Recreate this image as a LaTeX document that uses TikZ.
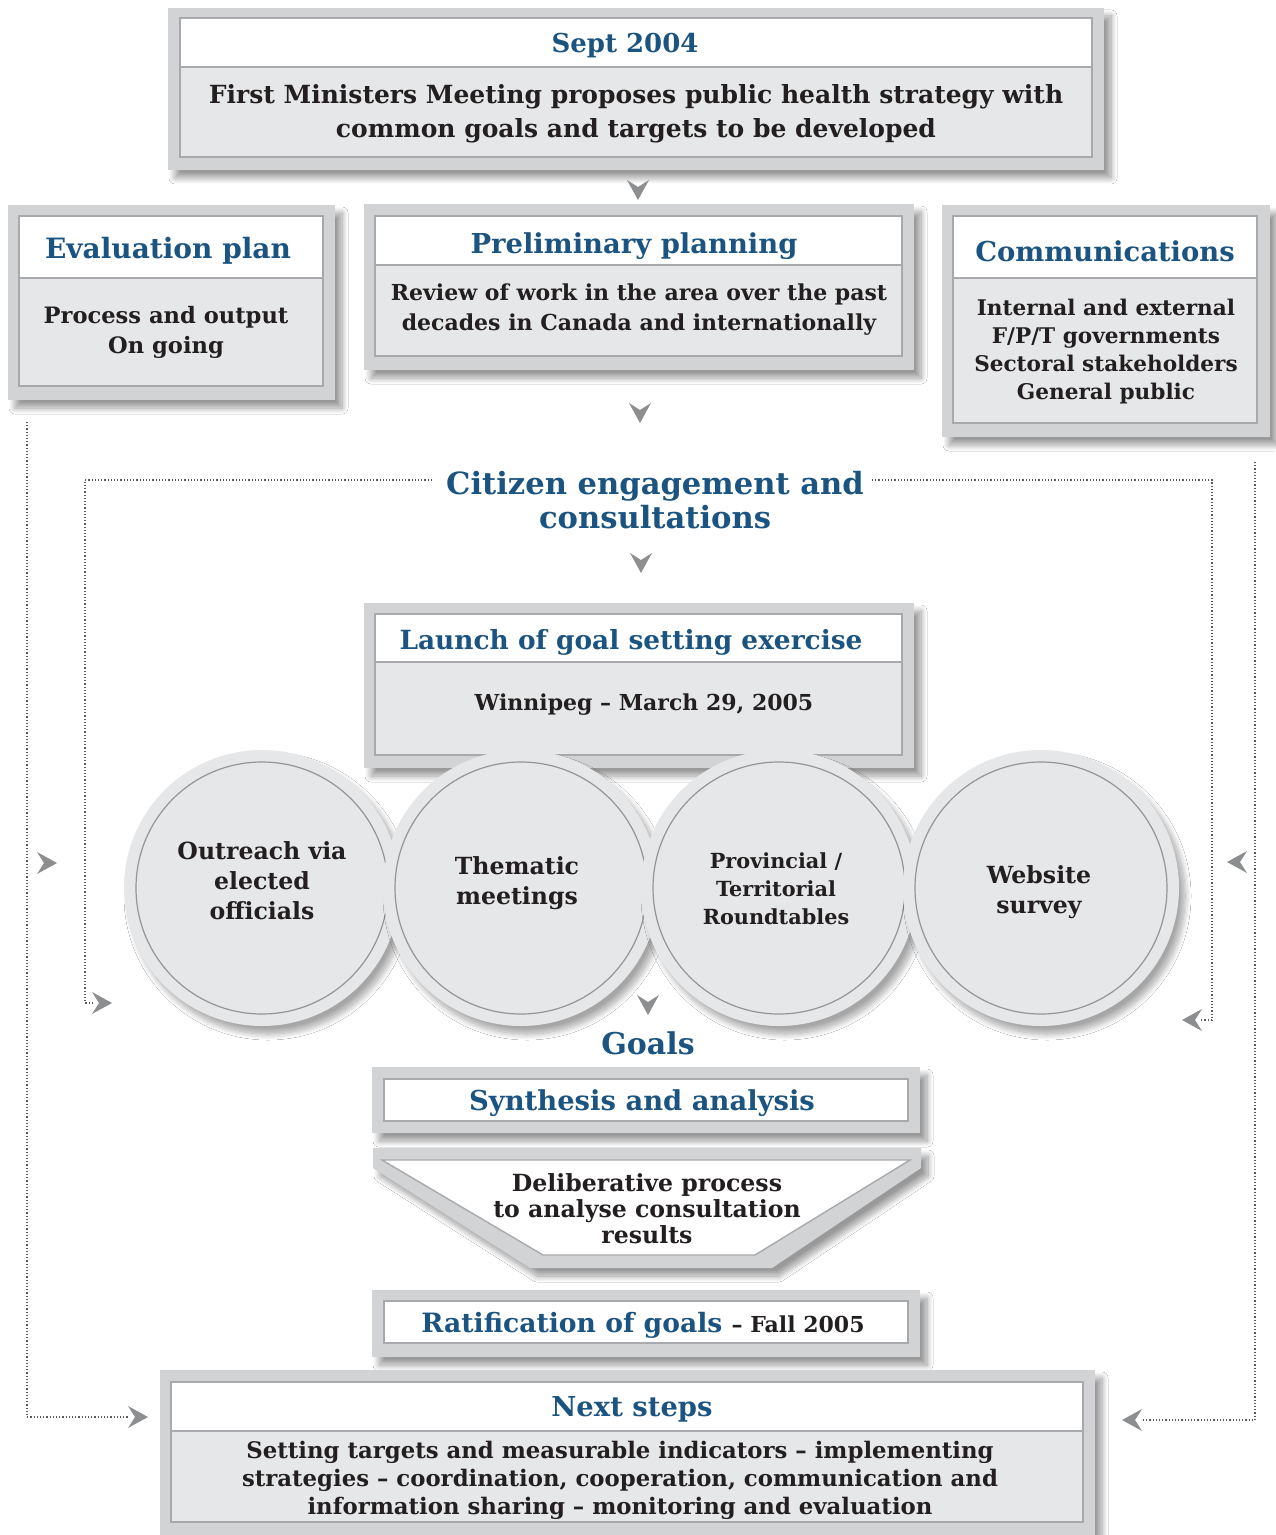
\documentclass[tikz,border=0pt]{standalone}
\usepackage{fontspec}
\setmainfont{DejaVu Serif}
\usetikzlibrary{fit,shadows.blur}

\definecolor{framegrey}{HTML}{D1D3D4}
\definecolor{bodygrey}{HTML}{E6E7E8}
\definecolor{rulegrey}{HTML}{A7A9AC}
\definecolor{ringgrey}{HTML}{939598}
\definecolor{chevgrey}{HTML}{8C8E90}
\definecolor{titleblue}{RGB}{27,84,128}
\definecolor{ink}{HTML}{231F20}
\definecolor{dotgrey}{HTML}{58595B}

\tikzset{
  softshadow/.style={blur shadow={shadow xshift=3.5pt, shadow yshift=-4pt, shadow blur steps=12,
      shadow blur radius=3pt, shadow opacity=40}},
  frame/.style={fill=framegrey, draw=none, inner sep=0pt, softshadow},
  headbox/.style={fill=white, draw=rulegrey, line width=0.7pt, inner sep=0pt},
  bodybox/.style={fill=bodygrey, draw=rulegrey, line width=0.7pt, inner sep=0pt},
  title/.style={text=titleblue, font=\bfseries\fontsize{13.7}{16}\selectfont, inner sep=0pt},
  bodytext/.style={text=ink, font=\bfseries\fontsize{11}{15}\selectfont, align=center, inner sep=0pt},
  disc/.style={circle, fill=bodygrey, minimum size=138pt, inner sep=0pt,
    blur shadow={shadow xshift=3pt, shadow yshift=-4pt, shadow blur steps=12,
      shadow blur radius=3pt, shadow opacity=35}},
  ring/.style={draw=ringgrey, line width=0.6pt},
  link/.style={draw=dotgrey, densely dotted, line width=0.6pt},
  chev/.pic={\fill[chevgrey] (0,10) -- (-11,-10) -- (0,-3) -- (11,-10) -- cycle;}
}

\begin{document}
\begin{tikzpicture}[x=0.5pt, y=-0.5pt]
\useasboundingbox (0,0) rectangle (1275,1535);
\fill[white] (0,0) rectangle (1275,1535);

% ---------- Sept 2004 ----------
\node[frame, fit={(168,8) (1104,170)}] (septF) {};
\node[headbox, fit={(180,18) (1092,67)}] (septH) {};
\node[bodybox, fit={(180,67) (1092,157)}] (septB) {};
\node[title, font=\bfseries\fontsize{13}{16}\selectfont] (septT) at (625,46) {Sept 2004};
\node[bodytext, font=\bfseries\fontsize{12.5}{17}\selectfont] (septX) at (636,114)
  {First Ministers Meeting proposes public health strategy with\\common goals and targets to be developed};
\pic at (638,190) {chev};

% ---------- Evaluation plan ----------
\node[frame, fit={(8,205) (335,400)}] (evalF) {};
\node[headbox, fit={(19,216) (323,278)}] (evalH) {};
\node[bodybox, fit={(19,278) (323,386)}] (evalB) {};
\node[title, font=\bfseries\fontsize{14}{16}\selectfont] (evalT) at (168,251) {Evaluation plan};
\node[bodytext, font=\bfseries\fontsize{11.3}{15}\selectfont] (evalX) at (166,332) {Process and output\\On going};

% ---------- Preliminary planning ----------
\node[frame, fit={(364,204) (914,370)}] (prelF) {};
\node[headbox, fit={(375,216) (902,265)}] (prelH) {};
\node[bodybox, fit={(375,265) (902,356)}] (prelB) {};
\node[title] (prelT) at (634,246) {Preliminary planning};
\node[bodytext] (prelX) at (639,310)
  {Review of work in the area over the past\\decades in Canada and internationally};
\pic at (640,413) {chev};

% ---------- Communications ----------
\node[frame, fit={(942,205) (1270,437)}] (commF) {};
\node[headbox, fit={(953,216) (1257,278)}] (commH) {};
\node[bodybox, fit={(953,278) (1257,423)}] (commB) {};
\node[title] (commT) at (1105,251) {Communications};
\node[bodytext, font=\bfseries\fontsize{10.8}{14}\selectfont] (commX) at (1106,352)
  {Internal and external\\F/P/T governments\\Sectoral stakeholders\\General public};

% ---------- Citizen engagement ----------
\node[text=titleblue, font=\bfseries\fontsize{15.3}{17}\selectfont, align=center, inner sep=0pt]
  (citT) at (655,500) {Citizen engagement and\\consultations};
\pic at (641,563) {chev};

% ---------- Launch ----------
\node[frame, fit={(364,603) (914,768)}] (launF) {};
\node[headbox, fit={(375,614) (902,662)}] (launH) {};
\node[bodybox, fit={(375,662) (902,755)}] (launB) {};
\node[title, font=\bfseries\fontsize{13.2}{16}\selectfont] (launT) at (631,642) {Launch of goal setting exercise};
\node[bodytext, font=\bfseries\fontsize{11}{15}\selectfont] (launX) at (644,705) {Winnipeg – March 29, 2005};

% ---------- Circles ----------
\node[disc] (c1) at (262,888) {};
\draw[ring] (c1.center) circle[radius=63pt];
\node[bodytext, font=\bfseries\fontsize{11.8}{15}\selectfont] (c1T) at (262,881) {Outreach via\\elected\\officials};
\node[disc] (c2) at (521,888) {};
\draw[ring] (c2.center) circle[radius=63pt];
\node[bodytext, font=\bfseries\fontsize{11.8}{15}\selectfont] (c2T) at (517,883) {Thematic\\meetings};
\node[disc] (c3) at (779,888) {};
\draw[ring] (c3.center) circle[radius=63pt];
\node[bodytext, font=\bfseries\fontsize{10.4}{14}\selectfont] (c3T) at (776,889) {Provincial /\\Territorial\\Roundtables};
\node[disc] (c4) at (1041,888) {};
\draw[ring] (c4.center) circle[radius=63pt];
\node[bodytext, font=\bfseries\fontsize{11.8}{15}\selectfont] (c4T) at (1039,892) {Website\\survey};

\pic at (648,1005) {chev};
\node[title, font=\bfseries\fontsize{15}{17}\selectfont] (goalT) at (648,1043) {Goals};

% ---------- Synthesis ----------
\node[frame, fit={(372,1067) (920,1133)}] (synF) {};
\node[headbox, fit={(384,1079) (908,1121)}] (synH) {};
\node[title] (synT) at (642,1103) {Synthesis and analysis};

% ---------- Deliberative funnel ----------
\fill[framegrey, softshadow]
  (373,1148) -- (921,1148) -- (921,1168) -- (772,1268) -- (530,1268) -- (373,1168) -- cycle;
\filldraw[fill=white, draw=rulegrey, line width=0.7pt]
  (382,1160) -- (910,1160) -- (755,1255) -- (543,1255) -- cycle;
\node[bodytext, font=\bfseries\fontsize{11.8}{13}\selectfont] (delX) at (647,1209)
  {Deliberative process\\to analyse consultation\\results};

% ---------- Ratification ----------
\node[frame, fit={(372,1290) (920,1357)}] (ratF) {};
\node[headbox, fit={(384,1301) (908,1343)}] (ratH) {};
\node[title, font=\bfseries\fontsize{13.3}{16}\selectfont] (ratT) at (643,1325)
  {Ratification of goals {\color{ink}\fontsize{11}{14}\selectfont – Fall 2005}};

% ---------- Next steps ----------
\node[frame, fit={(160,1370) (1095,1545)}] (nextF) {};
\node[headbox, fit={(171,1382) (1083,1431)}] (nextH) {};
\node[bodybox, fit={(171,1431) (1083,1522)}] (nextB) {};
\node[title] (nextT) at (632,1409) {Next steps};
\node[bodytext, font=\bfseries\fontsize{11.4}{14}\selectfont] (nextX) at (620,1480)
  {Setting targets and measurable indicators – implementing\\strategies – coordination, cooperation, communication and\\information sharing – monitoring and evaluation};

% ---------- Dotted feedback loops ----------
\coordinate (evalLink) at (27,422);
\coordinate (evalEnd) at (128,1417);
\coordinate (commLink) at (1255,462);
\coordinate (commEnd) at (1141,1420);
\coordinate (citLeft) at (432,480);
\coordinate (citLeftEnd) at (94,1003);
\coordinate (citRight) at (872,480);
\coordinate (citRightEnd) at (1200,1020);

\draw[link] (evalLink) |- (evalEnd);
\draw[link] (commLink) |- (commEnd);
\draw[link] (citLeft) -| (85,1003) -- (citLeftEnd);
\draw[link] (citRight) -| (1212,1020) -- (citRightEnd);

\pic[rotate=90] at (138,1417) {chev};
\pic[rotate=-90] at (1132,1420) {chev};
\pic[rotate=90] at (102,1003) {chev};
\pic[rotate=-90] at (1192,1020) {chev};
\pic[rotate=90] at (47,863) {chev};
\pic[rotate=-90] at (1237,862) {chev};
\end{tikzpicture}
\end{document}
